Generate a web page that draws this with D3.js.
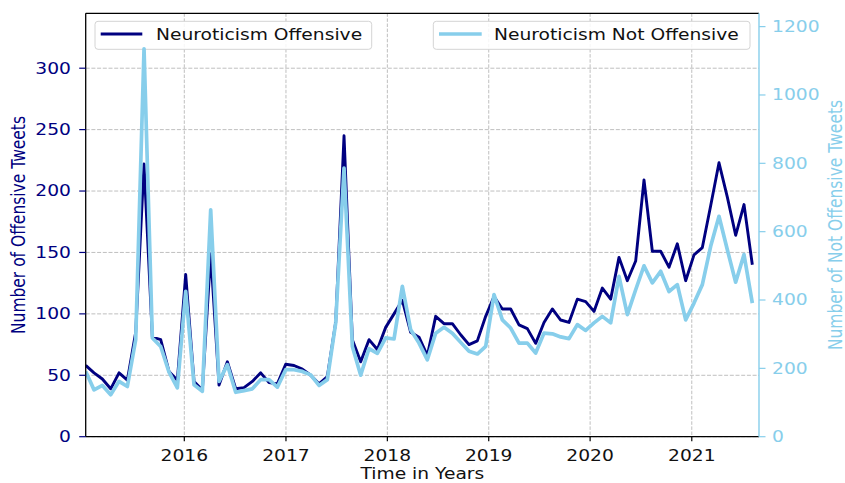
<!DOCTYPE html>
<html>
<head>
<meta charset="utf-8">
<script src="https://cdn.jsdelivr.net/npm/d3@7/dist/d3.min.js"></script>
<style>
  html, body { margin: 0; padding: 0; background: #fff; }
  svg { display: block; }
  text { font-family: "DejaVu Sans", sans-serif; }
</style>
</head>
<body>
<div id="chart"></div>
<script>
// ---------------- DATA ----------------
const dates = [
  "2015-01-11","2015-02-10","2015-03-12","2015-04-11","2015-05-11","2015-06-10","2015-07-10","2015-08-09",
  "2015-09-08","2015-10-08","2015-11-07","2015-12-07","2016-01-06","2016-02-05","2016-03-06","2016-04-05",
  "2016-05-05","2016-06-04","2016-07-04","2016-08-03","2016-09-02","2016-10-02","2016-11-01","2016-12-01",
  "2016-12-31","2017-01-30","2017-03-01","2017-03-31","2017-04-30","2017-05-30","2017-06-29","2017-07-29",
  "2017-08-28","2017-09-27","2017-10-27","2017-11-26","2017-12-26","2018-01-25","2018-02-24","2018-03-26",
  "2018-04-25","2018-05-25","2018-06-24","2018-07-24","2018-08-23","2018-09-22","2018-10-22","2018-11-21",
  "2018-12-21","2019-01-20","2019-02-19","2019-03-21","2019-04-20","2019-05-20","2019-06-19","2019-07-19",
  "2019-08-18","2019-09-17","2019-10-17","2019-11-16","2019-12-16","2020-01-15","2020-02-14","2020-03-15",
  "2020-04-14","2020-05-14","2020-06-13","2020-07-13","2020-08-12","2020-09-11","2020-10-11","2020-11-10",
  "2020-12-10","2021-01-09","2021-02-08","2021-03-10","2021-04-09","2021-05-09","2021-06-08","2021-07-08",
  "2021-08-07"
];
const offensive = [
  58, 52, 47, 39, 52, 46, 85, 222, 81, 79, 53, 46, 132, 45, 38, 149,
  42, 61, 39, 40, 45, 52, 44, 43, 59, 58, 55, 50, 43, 49, 93, 245,
  79, 61, 79, 71, 89, 100, 111, 85, 81, 66, 98, 92, 92, 83, 75, 78,
  98, 114, 104, 104, 91, 88, 76, 93, 104, 95, 93, 112, 110, 102, 121, 112,
  146, 127, 143, 209, 151, 151, 138, 157, 127, 148, 154, 188, 223, 195, 164, 189,
  140
];
const notOffensive = [
  191, 137, 150, 123, 162, 147, 284, 1135, 289, 264, 189, 143, 425, 152, 133, 664,
  162, 211, 130, 135, 140, 167, 167, 145, 196, 196, 191, 181, 150, 167, 333, 786,
  264, 180, 258, 244, 289, 286, 440, 313, 274, 225, 303, 320, 303, 276, 250, 242,
  264, 416, 342, 318, 274, 274, 245, 303, 301, 292, 287, 328, 311, 333, 352, 333,
  469, 357, 430, 500, 450, 484, 425, 445, 342, 391, 445, 557, 645, 547, 452, 533,
  391
];
const xEnd = "2021-08-31";
const yearTicks = ["2016", "2017", "2018", "2019", "2020", "2021"];
const leftTicks = [0, 50, 100, 150, 200, 250, 300];
const rightTicks = [0, 200, 400, 600, 800, 1000, 1200];
const leftMax = 344.7;
const rightMax = 1239;
const seriesNames = ["Neuroticism Offensive", "Neuroticism Not Offensive"];
const leftLabel = "Number of Offensive Tweets";
const rightLabel = "Number of Not Offensive Tweets";
const xLabel = "Time in Years";

// ---------------- LAYOUT ----------------
const W = 845, H = 483;
const m = { left: 85.7, right: 759, top: 13.3, bottom: 436.7 };
const SX = 1.205;           // horizontal text stretch of the original
const FS = 15.5;
const DARK = "#000080", LIGHT = "#87CEEB";

const parse = d3.timeParse("%Y-%m-%d");
const data = dates.map((d, i) => ({ date: parse(d), off: offensive[i], not: notOffensive[i] }));

const x = d3.scaleTime().domain([data[0].date, parse(xEnd)]).range([m.left, m.right]);
const yL = d3.scaleLinear().domain([0, leftMax]).range([m.bottom, m.top]);
const yR = d3.scaleLinear().domain([0, rightMax]).range([m.bottom, m.top]);

const svg = d3.select("#chart").append("svg").attr("width", W).attr("height", H);

svg.append("defs").append("clipPath").attr("id", "clip")
  .append("rect").attr("x", m.left).attr("y", m.top - 6)
  .attr("width", m.right - m.left).attr("height", m.bottom - m.top + 6);

// grid
const grid = svg.append("g");
grid.selectAll("line.gh").data(leftTicks).join("line")
  .attr("x1", m.left).attr("x2", m.right)
  .attr("y1", d => yL(d)).attr("y2", d => yL(d))
  .attr("stroke", "#b8b8b8").attr("stroke-width", 0.9).attr("stroke-dasharray", "4,1.7");
grid.selectAll("line.gv").data(yearTicks).join("line")
  .attr("x1", d => x(parse(d + "-01-01"))).attr("x2", d => x(parse(d + "-01-01")))
  .attr("y1", m.top).attr("y2", m.bottom)
  .attr("stroke", "#b8b8b8").attr("stroke-width", 0.9).attr("stroke-dasharray", "3.5,1.6");

// dark line (left axis)
const lineL = d3.line().x(d => x(d.date)).y(d => yL(d.off));
const lineR = d3.line().x(d => x(d.date)).y(d => yR(d.not));

svg.append("path").datum(data).attr("clip-path", "url(#clip)")
  .attr("d", lineL).attr("fill", "none").attr("stroke", DARK)
  .attr("stroke-width", 2.9).attr("stroke-linejoin", "round");

function stretchedText(g, tx, ty, str, opts) {
  const t = g.append("text")
    .attr("transform", `translate(${tx},${ty}) scale(${SX},1)`)
    .attr("font-size", FS)
    .attr("fill", opts.fill || "#000")
    .attr("text-anchor", opts.anchor || "start")
    .text(str);
  if (opts.baseline) t.attr("dominant-baseline", opts.baseline);
  return t;
}

function legend(x0, x1, lineX0, lineX1, textX, color, label) {
  const g = svg.append("g");
  g.append("rect").attr("x", x0).attr("y", 21.3).attr("width", x1 - x0).attr("height", 28)
    .attr("rx", 3).attr("fill", "white").attr("fill-opacity", 0.85)
    .attr("stroke", "#d4d4d4").attr("stroke-width", 1);
  g.append("line").attr("x1", lineX0).attr("x2", lineX1).attr("y1", 34).attr("y2", 34)
    .attr("stroke", color).attr("stroke-width", color === DARK ? 2.9 : 3.7);
  stretchedText(g, textX, 39.8, label, { fill: "#111" });
}

legend(95, 371.7, 100.7, 142.3, 156, DARK, seriesNames[0]);

// light line (right axis)
svg.append("path").datum(data).attr("clip-path", "url(#clip)")
  .attr("d", lineR).attr("fill", "none").attr("stroke", LIGHT)
  .attr("stroke-width", 3.7).attr("stroke-linejoin", "round");

legend(433.3, 750, 439, 481.7, 494, LIGHT, seriesNames[1]);

// spines
svg.append("line").attr("x1", m.left).attr("x2", m.right).attr("y1", m.top).attr("y2", m.top)
  .attr("stroke", "#000").attr("stroke-width", 1.3);
svg.append("line").attr("x1", m.left).attr("x2", m.right).attr("y1", m.bottom).attr("y2", m.bottom)
  .attr("stroke", "#000").attr("stroke-width", 1.3);
svg.append("line").attr("x1", m.left).attr("x2", m.left).attr("y1", m.top).attr("y2", m.bottom)
  .attr("stroke", "#000").attr("stroke-width", 1.3);
svg.append("line").attr("x1", m.right).attr("x2", m.right).attr("y1", m.top).attr("y2", m.bottom)
  .attr("stroke", LIGHT).attr("stroke-width", 1.4);

// left axis ticks
const la = svg.append("g");
leftTicks.forEach(v => {
  la.append("line").attr("x1", m.left - 6.5).attr("x2", m.left).attr("y1", yL(v)).attr("y2", yL(v))
    .attr("stroke", DARK).attr("stroke-width", 1.2);
  stretchedText(la, 71, yL(v), d3.format("d")(v), { fill: DARK, anchor: "end", baseline: "central" });
});
// right axis ticks
const ra = svg.append("g");
rightTicks.forEach(v => {
  ra.append("line").attr("x1", m.right).attr("x2", m.right + 6.5).attr("y1", yR(v)).attr("y2", yR(v))
    .attr("stroke", LIGHT).attr("stroke-width", 1.2);
  stretchedText(ra, 772, yR(v), d3.format("d")(v), { fill: LIGHT, anchor: "start", baseline: "central" });
});
// x axis ticks
const xa = svg.append("g");
yearTicks.forEach(yr => {
  const px = x(parse(yr + "-01-01"));
  xa.append("line").attr("x1", px).attr("x2", px).attr("y1", m.bottom).attr("y2", m.bottom + 4.5)
    .attr("stroke", "#000").attr("stroke-width", 1.2);
  stretchedText(xa, px, 460.5, yr, { fill: "#111", anchor: "middle" });
});

// axis labels
stretchedText(svg, (m.left + m.right) / 2, 479.3, xLabel, { fill: "#111", anchor: "middle" });

svg.append("text")
  .attr("transform", `translate(25,${(m.top + m.bottom) / 2}) scale(${SX},1) rotate(-90)`)
  .attr("font-size", FS).attr("fill", DARK).attr("text-anchor", "middle")
  .text(leftLabel);
svg.append("text")
  .attr("transform", `translate(841.5,${(m.top + m.bottom) / 2}) scale(${SX},1) rotate(-90)`)
  .attr("font-size", FS).attr("fill", LIGHT).attr("text-anchor", "middle")
  .text(rightLabel);
</script>
</body>
</html>
